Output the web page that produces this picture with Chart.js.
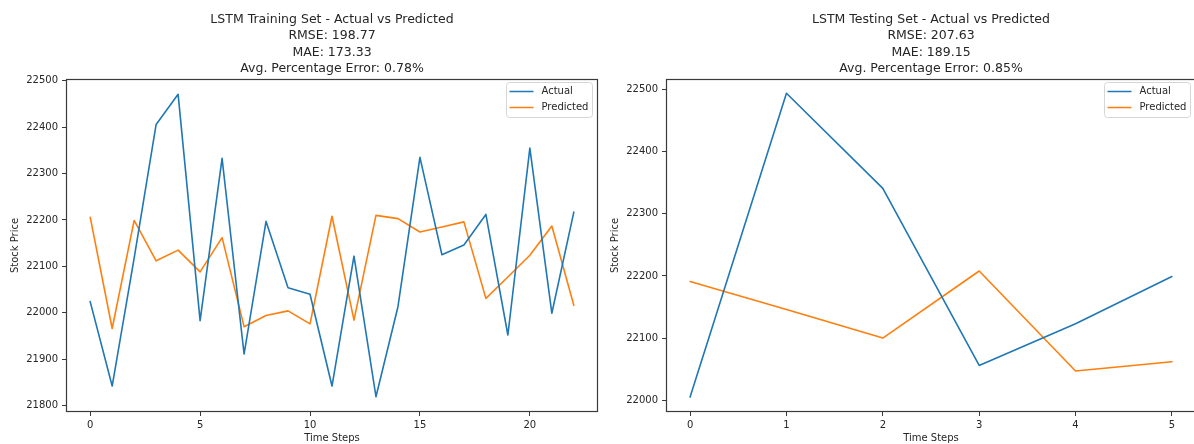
<!DOCTYPE html>
<html><head><meta charset="utf-8">
<script src="https://cdn.jsdelivr.net/npm/chart.js@4.4.1/dist/chart.umd.min.js"></script>
<style>
html,body{margin:0;padding:0;background:#fff;overflow:hidden;width:1194px;height:444px;}
#w1{position:absolute;left:0;top:0;width:600px;height:444px;}
#w2{position:absolute;left:600px;top:0;width:600px;height:444px;}
canvas{display:block;}
</style></head><body>
<div id="w1"><canvas id="c1" width="600" height="444"></canvas></div>
<div id="w2"><canvas id="c2" width="600" height="444"></canvas></div>
<script>
// ---- data ----
const trainSteps = [0,1,2,3,4,5,6,7,8,9,10,11,12,13,14,15,16,17,18,19,20,21,22];
const trainActual = [22024,21842,22118,22406,22471,21983,22333,21911,22197,22054,22040,21842,22122,21819,22013,22335,22125,22146,22212,21952,22355,21999,22217];
const trainPredicted = [22206,21966,22199,22112,22135,22088,22162,21970,21994,22004,21976,22208,21984,22210,22203,22174,22185,22196,22031,22077,22124,22187,22016];
const testSteps = [0,1,2,3,4,5];
const testActual = [22005,22494,22341,22056,22123,22199];
const testPredicted = [22191,22146,22100,22208,22047,22062];

const trainTitle = ['LSTM Training Set - Actual vs Predicted','RMSE: 198.77','MAE: 173.33','Avg. Percentage Error: 0.78%'];
const testTitle = ['LSTM Testing Set - Actual vs Predicted','RMSE: 207.63','MAE: 189.15','Avg. Percentage Error: 0.85%'];
const seriesLabels = ['Actual','Predicted'];
const xAxisLabel = 'Time Steps';
const yAxisLabel = 'Stock Price';

const trainXTicks = [0,5,10,15,20];
const trainYTicks = [21800,21900,22000,22100,22200,22300,22400,22500];
const testXTicks = [0,1,2,3,4,5];
const testYTicks = [22000,22100,22200,22300,22400,22500];

const trainXRange = [-1.1, 23.1];
const trainYRange = [21786, 22504];
const testXRange = [-0.25, 5.25];
const testYRange = [21981, 22517];

// ---- styling ----
const FONT = "'DejaVu Sans', sans-serif";
const TXT = '#262626';
const AX = '#3a3a3a';
const C_ACT = '#1f77b4';
const C_PRED = '#ff7f0e';

const framePlugin = {
  id: 'frame',
  afterDraw(chart) {
    const {ctx, chartArea: a} = chart;
    ctx.save();
    ctx.strokeStyle = AX;
    ctx.lineWidth = 1.2;
    ctx.strokeRect(Math.round(a.left) + 0.5, Math.round(a.top) + 0.5, Math.round(a.right - a.left) - 1, Math.round(a.bottom - a.top) - 1);
    ctx.restore();
  }
};

const legendPlugin = {
  id: 'boxLegend',
  afterDraw(chart) {
    const {ctx, chartArea: a} = chart;
    const w = 86, h = 35, r = 3;
    const x = Math.round(a.right - 6 - w) + 0.5, y = Math.round(a.top + 3) + 0.5;
    ctx.save();
    ctx.beginPath();
    ctx.moveTo(x + r, y);
    ctx.lineTo(x + w - r, y); ctx.arcTo(x + w, y, x + w, y + r, r);
    ctx.lineTo(x + w, y + h - r); ctx.arcTo(x + w, y + h, x + w - r, y + h, r);
    ctx.lineTo(x + r, y + h); ctx.arcTo(x, y + h, x, y + h - r, r);
    ctx.lineTo(x, y + r); ctx.arcTo(x, y, x + r, y, r);
    ctx.closePath();
    ctx.fillStyle = 'rgba(255,255,255,0.8)';
    ctx.fill();
    ctx.strokeStyle = '#d6d6d6';
    ctx.lineWidth = 1;
    ctx.stroke();
    chart.data.datasets.forEach((ds, i) => {
      const cy = y + 9 + i * 16;
      ctx.beginPath();
      ctx.strokeStyle = ds.borderColor;
      ctx.lineWidth = 1.5;
      ctx.moveTo(x + 3, cy); ctx.lineTo(x + 27, cy);
      ctx.stroke();
      ctx.fillStyle = TXT;
      ctx.font = '10px ' + FONT;
      ctx.textBaseline = 'middle';
      ctx.textAlign = 'left';
      ctx.fillText(ds.label, x + 35, cy);
    });
    ctx.restore();
  }
};

function makeChart(id, steps, actual, predicted, title, xTicks, yTicks, xRange, yRange, padRight) {
  const tickFont = {family: FONT, size: 10};
  const line = {borderWidth: 1.6, pointRadius: 0, tension: 0, fill: false, borderJoinStyle: 'round', borderCapStyle: 'round'};
  return new Chart(document.getElementById(id), {
    type: 'line',
    data: {
      datasets: [
        Object.assign({label: seriesLabels[0], data: steps.map((s, i) => ({x: s, y: actual[i]})), borderColor: C_ACT, backgroundColor: C_ACT}, line),
        Object.assign({label: seriesLabels[1], data: steps.map((s, i) => ({x: s, y: predicted[i]})), borderColor: C_PRED, backgroundColor: C_PRED}, line)
      ]
    },
    options: {
      responsive: false,
      animation: false,
      devicePixelRatio: 1,
      layout: {padding: {left: 0, right: padRight, top: 0, bottom: 0}},
      plugins: {
        legend: {display: false},
        tooltip: {enabled: false},
        title: {
          display: true, text: title, fullSize: false, color: TXT,
          font: {family: FONT, size: 12.5, weight: 'normal', lineHeight: 1.32},
          padding: {top: 11, bottom: 2}
        }
      },
      scales: {
        x: {
          type: 'linear', min: xRange[0], max: xRange[1],
          afterBuildTicks: s => { s.ticks = xTicks.map(v => ({value: v})); },
          afterFit: s => { s.height = 32; },
          ticks: {font: tickFont, color: TXT, padding: 3, maxRotation: 0, autoSkip: false, callback: v => String(v)},
          grid: {display: true, drawOnChartArea: false, drawTicks: true, tickLength: 4, color: AX, lineWidth: 1},
          border: {display: false},
          title: {display: true, text: xAxisLabel, color: TXT, font: {family: FONT, size: 10}, padding: {top: 0, bottom: 0}}
        },
        y: {
          type: 'linear', min: yRange[0], max: yRange[1],
          afterBuildTicks: s => { s.ticks = yTicks.map(v => ({value: v})); },
          afterFit: s => { s.width = 66; },
          ticks: {font: tickFont, color: TXT, padding: 4, autoSkip: false, callback: v => String(v)},
          grid: {display: true, drawOnChartArea: false, drawTicks: true, tickLength: 4, color: AX, lineWidth: 1},
          border: {display: false},
          title: {display: true, text: yAxisLabel, color: TXT, font: {family: FONT, size: 10}, padding: {top: 9, bottom: 0}}
        }
      }
    },
    plugins: [framePlugin, legendPlugin]
  });
}

makeChart('c1', trainSteps, trainActual, trainPredicted, trainTitle, trainXTicks, trainYTicks, trainXRange, trainYRange, 2);
makeChart('c2', testSteps, testActual, testPredicted, testTitle, testXTicks, testYTicks, testXRange, testYRange, 4);
</script>
</body></html>
